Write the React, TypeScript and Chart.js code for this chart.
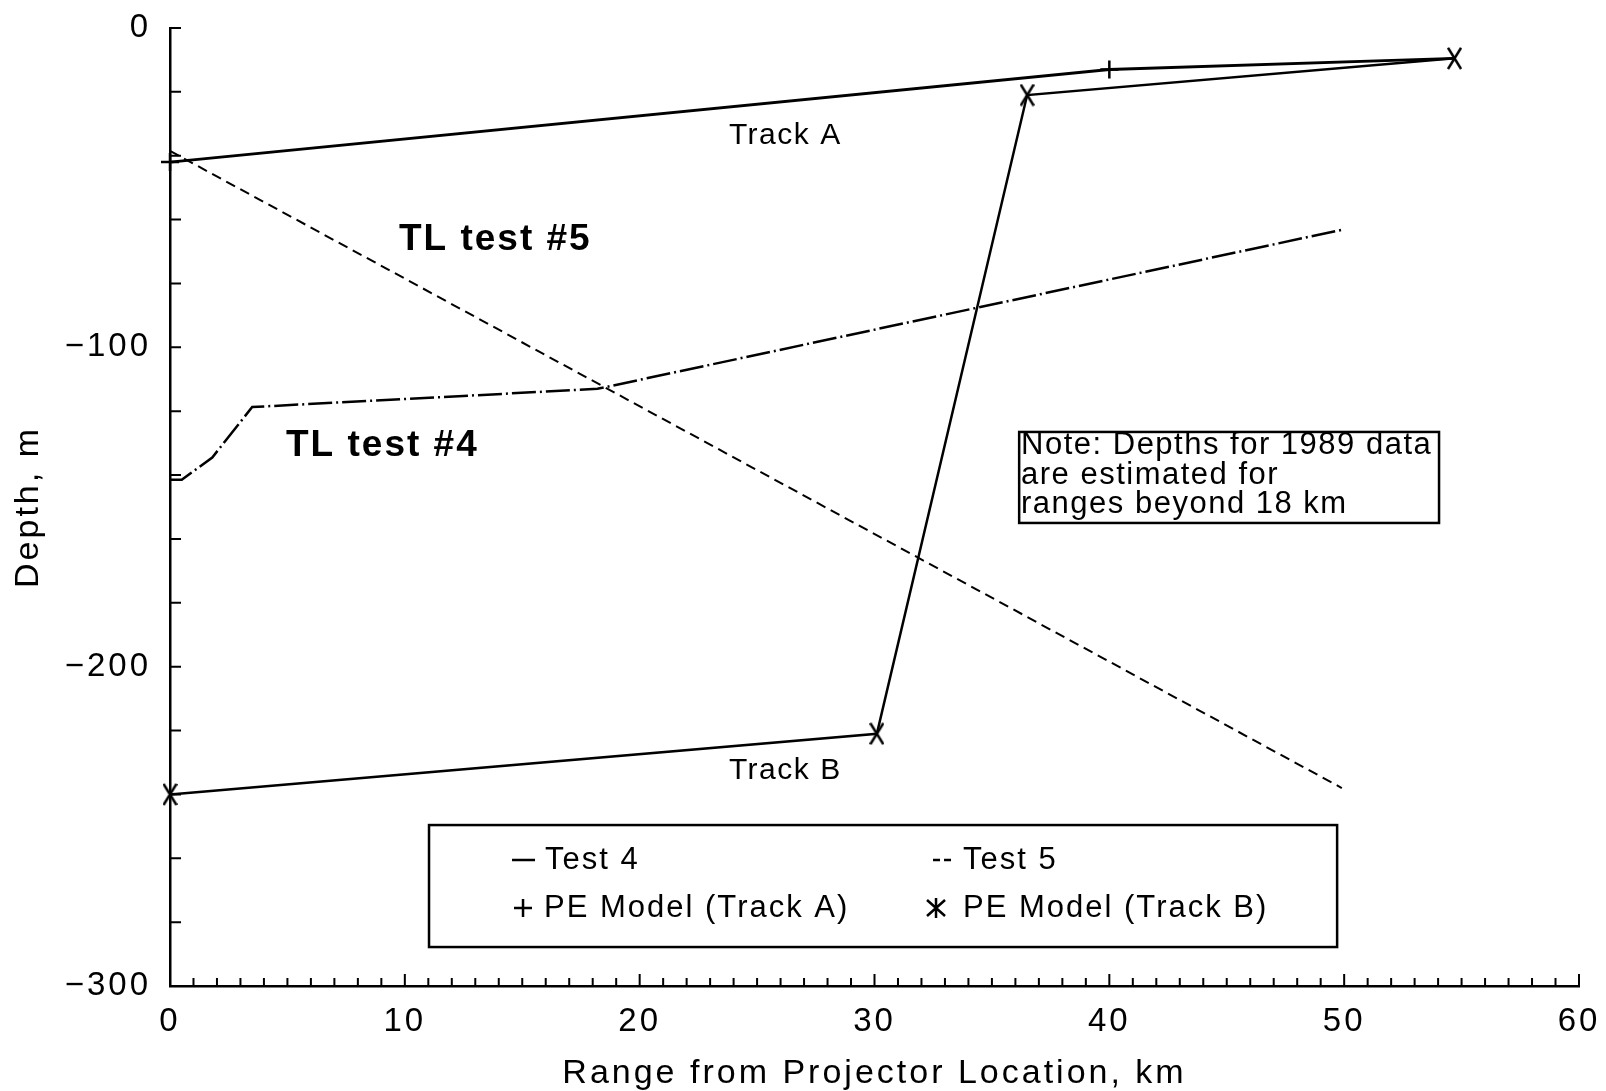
import React, { useEffect, useRef } from 'react';
import { Chart, registerables } from 'chart.js';

Chart.register(...registerables);

// ---- data ----
const trackAX = [0, 40, 54.7];
const trackAY = [-42, -13, -9.5];
const trackBX = [0, 30.1, 36.5, 54.7];
const trackBY = [-240, -221, -21, -9.5];
const test4X = [0, 0.5, 1.8, 3.5, 18.2, 49.9];
const test4Y = [-141.5, -141.5, -134.5, -118.7, -113, -63.2];
const test5X = [0, 49.9];
const test5Y = [-38.5, -238];
const xTickValues = [0, 10, 20, 30, 40, 50, 60];
const yTickValues = [0, -100, -200, -300];
const legendLabels = ['Test 4', 'Test 5', 'PE Model (Track A)', 'PE Model (Track B)'];
const noteLines = ['Note: Depths for 1989 data', 'are estimated for', 'ranges beyond 18 km'];
const testLabels = ['TL test #5', 'TL test #4'];
const trackLabels = ['Track A', 'Track B'];

const FONT = "'Liberation Sans', Arial, sans-serif";

function pts(xs: number[], ys: number[]) {
  return xs.map((x, i) => ({ x, y: ys[i] }));
}

function makeXMarker(w: number, h: number, lw: number) {
  const c = document.createElement('canvas');
  c.width = w;
  c.height = h;
  const g = c.getContext('2d')!;
  g.strokeStyle = '#000';
  g.lineWidth = lw;
  g.beginPath();
  g.moveTo(1, 1);
  g.lineTo(w - 1, h - 1);
  g.moveTo(w - 1, 1);
  g.lineTo(1, h - 1);
  g.stroke();
  return c;
}

function drawText(ctx: CanvasRenderingContext2D, s: string, px: number, py: number, font: string, spacing: number) {
  ctx.font = font;
  (ctx as any).letterSpacing = spacing + 'px';
  ctx.textAlign = 'left';
  ctx.textBaseline = 'middle';
  ctx.fillText(s, px, py);
}

const overlay = {
  id: 'overlay',
  beforeDraw(chart: any) {
    chart.ctx.letterSpacing = '3px';
  },
  afterDraw(chart: any) {
    const { ctx, chartArea: a, scales } = chart;
    const X = (v: number) => scales.x.getPixelForValue(v);
    const Y = (v: number) => scales.y.getPixelForValue(v);
    ctx.save();
    ctx.strokeStyle = '#000';
    ctx.fillStyle = '#000';
    ctx.lineWidth = 2;
    // inward minor ticks
    ctx.beginPath();
    for (let v = 0; v > -300; v -= 20) {
      const py = Y(v);
      ctx.moveTo(a.left, py);
      ctx.lineTo(a.left + 11, py);
    }
    for (let k = 1; k <= 60; k++) {
      const px = X(k);
      ctx.moveTo(px, a.bottom);
      ctx.lineTo(px, a.bottom - (k % 10 === 0 ? 12 : 8));
    }
    ctx.stroke();

    // bold test labels
    drawText(ctx, testLabels[0], X(9.75), Y(-66.4), `bold 37px ${FONT}`, 2);
    drawText(ctx, testLabels[1], X(4.94), Y(-130.9), `bold 37px ${FONT}`, 2);
    // track labels
    drawText(ctx, trackLabels[0], X(23.8), Y(-33.8), `30px ${FONT}`, 1.5);
    drawText(ctx, trackLabels[1], X(23.8), Y(-232.7), `30px ${FONT}`, 1.5);

    // note box
    ctx.lineWidth = 2.5;
    const nx0 = X(36.16), ny0 = Y(-126.5), nx1 = X(54.04), ny1 = Y(-155);
    ctx.strokeRect(nx0, ny0, nx1 - nx0, ny1 - ny0);
    const noteY = [-130.7, -140.0, -149.3];
    noteLines.forEach((s, i) => drawText(ctx, s, X(36.24), Y(noteY[i]), `31px ${FONT}`, 1.5));

    // legend box
    const lx = X(11.03), ly = Y(-249.6), lx1 = X(49.7), ly1 = Y(-287.8);
    ctx.lineWidth = 2.5;
    ctx.strokeRect(lx, ly, lx1 - lx, ly1 - ly);
    const r1 = ly + 35, r2 = ly + 83;
    const lf = `31px ${FONT}`;
    ctx.beginPath();
    // Test 4 solid dash
    ctx.moveTo(lx + 83, r1); ctx.lineTo(lx + 106, r1);
    // Test 5 two dashes
    ctx.moveTo(lx + 504, r1); ctx.lineTo(lx + 511, r1);
    ctx.moveTo(lx + 515, r1); ctx.lineTo(lx + 522, r1);
    // plus
    ctx.moveTo(lx + 85, r2); ctx.lineTo(lx + 103, r2);
    ctx.moveTo(lx + 94, r2 - 9); ctx.lineTo(lx + 94, r2 + 9);
    // asterisk
    const ax = lx + 507;
    ctx.moveTo(ax - 9, r2 - 8); ctx.lineTo(ax + 9, r2 + 8);
    ctx.moveTo(ax + 9, r2 - 8); ctx.lineTo(ax - 9, r2 + 8);
    ctx.moveTo(ax, r2 - 10); ctx.lineTo(ax, r2 + 10);
    ctx.stroke();
    drawText(ctx, legendLabels[0], lx + 116, r1, lf, 2);
    drawText(ctx, legendLabels[1], lx + 534, r1, lf, 2);
    drawText(ctx, legendLabels[2], lx + 115, r2, lf, 2);
    drawText(ctx, legendLabels[3], lx + 534, r2, lf, 2);

    ctx.restore();
    ctx.letterSpacing = '0px';
  },
};

function zeroPad(s: any) {
  s.paddingTop = 0;
  s.paddingBottom = 0;
  s.paddingLeft = 0;
  s.paddingRight = 0;
}

export default function App() {
  const ref = useRef<HTMLCanvasElement | null>(null);
  useEffect(() => {
    document.body.style.margin = '0';
    document.body.style.overflow = 'hidden';
    const canvas = ref.current!;
    const xMarker = makeXMarker(15, 23, 2.5);
    Chart.defaults.font.family = FONT;
    Chart.defaults.color = '#000';
    const chart = new Chart(canvas, {
      type: 'scatter',
      data: {
        datasets: [
          {
            data: pts(test5X, test5Y),
            showLine: true,
            borderColor: '#000',
            borderWidth: 2,
            borderDash: [10, 6],
            pointRadius: 0,
            clip: false,
          } as any,
          {
            data: pts(test4X, test4Y),
            showLine: true,
            borderColor: '#000',
            borderWidth: 2.5,
            borderDash: [24, 4, 2, 4],
            pointRadius: 0,
            clip: false,
          },
          {
            data: pts(trackAX, trackAY),
            showLine: true,
            borderColor: '#000',
            borderWidth: 2.8,
            pointStyle: 'cross',
            pointRadius: [9, 9, 0],
            pointBorderWidth: 2.5,
            pointBorderColor: '#000',
            clip: false,
          },
          {
            data: pts(trackBX, trackBY),
            showLine: true,
            borderColor: '#000',
            borderWidth: 2.5,
            pointStyle: xMarker,
            pointRadius: 8,
            clip: false,
          },
        ],
      },
      options: {
        animation: false,
        responsive: false,
        maintainAspectRatio: false,
        layout: { padding: { left: 0, top: 28, right: 27, bottom: 0 } },
        plugins: { legend: { display: false }, tooltip: { enabled: false } },
        scales: {
          x: {
            type: 'linear',
            min: 0,
            max: 60,
            grid: { display: false, drawTicks: false },
            border: { display: true, color: '#000', width: 2.5 },
            ticks: {
              font: { size: 33 },
              color: '#000',
              padding: 16,
              maxRotation: 0,
              callback: (v: any) => String(v),
            },
            afterBuildTicks: (s: any) => {
              s.ticks = xTickValues.map((v) => ({ value: v }));
            },
            afterFit: (s: any) => {
              s.height = 105;
              zeroPad(s);
            },
            title: {
              display: true,
              text: 'Range from Projector Location, km',
              font: { size: 34, lineHeight: 1 },
              color: '#000',
              padding: { top: 0, bottom: 0 },
            },
          },
          y: {
            type: 'linear',
            min: -300,
            max: 0,
            grid: { display: false, drawTicks: false },
            border: { display: true, color: '#000', width: 2.5 },
            ticks: {
              font: { size: 33 },
              color: '#000',
              padding: 19,
              callback: (v: any) => (v === 0 ? '0' : '\u2212' + Math.abs(v)),
            },
            afterBuildTicks: (s: any) => {
              s.ticks = yTickValues.map((v) => ({ value: v }));
            },
            afterFit: (s: any) => {
              s.width = 170;
              zeroPad(s);
            },
            title: {
              display: true,
              text: 'Depth, m',
              font: { size: 34, lineHeight: 1 },
              color: '#000',
              padding: { top: 12, bottom: 0 },
            },
          },
        },
      },
      plugins: [overlay],
    } as any);
    return () => chart.destroy();
  }, []);
  return (
    <div style={{ width: 1606, height: 1091, background: '#fff' }}>
      <canvas ref={ref} width={1606} height={1091} style={{ display: 'block' }} />
    </div>
  );
}
